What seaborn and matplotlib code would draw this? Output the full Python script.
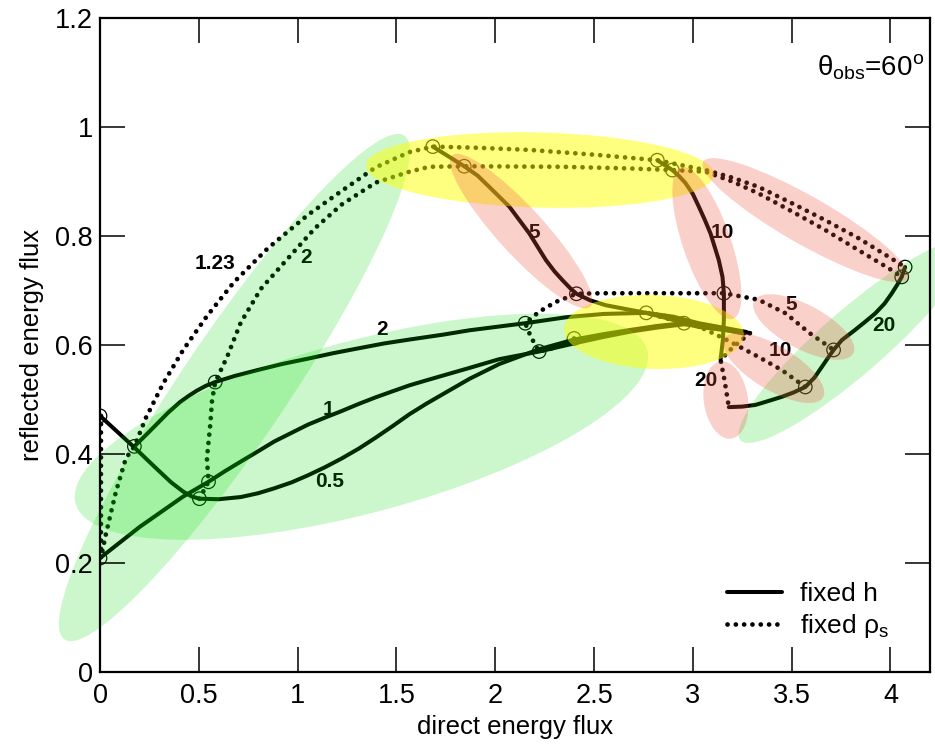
import matplotlib
matplotlib.use("Agg")
import matplotlib.pyplot as plt
import seaborn as sns
from matplotlib.patches import Ellipse
from matplotlib.transforms import Affine2D
from matplotlib.lines import Line2D

# ---------------- curves at fixed h (solid) ----------------
h05_x = [0.0, 0.09, 0.174, 0.240, 0.301, 0.360, 0.421, 0.465, 0.503, 0.60, 0.712, 0.800, 0.882,
         0.970, 1.053, 1.140, 1.224, 1.310, 1.395, 1.480, 1.566, 1.650, 1.736, 1.87, 2.02, 2.22,
         2.399, 2.55, 2.69, 2.82, 2.955, 3.10, 3.25]
h05_y = [0.470, 0.440, 0.412, 0.389, 0.368, 0.348, 0.331, 0.322, 0.318, 0.317, 0.321, 0.328, 0.337,
         0.348, 0.361, 0.376, 0.392, 0.410, 0.430, 0.451, 0.473, 0.492, 0.510, 0.538, 0.565, 0.592,
         0.610, 0.620, 0.628, 0.635, 0.640, 0.634, 0.622]

h1_x = [0.0, 0.20, 0.421, 0.549, 0.630, 0.712, 0.800, 0.882, 0.970, 1.053, 1.140, 1.224, 1.310,
        1.395, 1.480, 1.566, 1.650, 1.736, 1.87, 2.02, 2.222, 2.40, 2.55, 2.69, 2.82, 2.955, 3.10, 3.26]
h1_y = [0.209, 0.266, 0.322, 0.349, 0.368, 0.386, 0.405, 0.423, 0.439, 0.454, 0.467, 0.479, 0.492,
        0.504, 0.515, 0.526, 0.535, 0.544, 0.558, 0.574, 0.588, 0.603, 0.615, 0.625, 0.632, 0.638, 0.632, 0.621]

h2_x = [0.174, 0.230, 0.285, 0.345, 0.404, 0.450, 0.489, 0.535, 0.583, 0.680, 0.797, 0.920, 1.053,
        1.180, 1.309, 1.440, 1.566, 1.736, 1.87, 2.0, 2.152, 2.36, 2.55, 2.764, 2.90, 3.03, 3.27]
h2_y = [0.414, 0.434, 0.454, 0.476, 0.495, 0.507, 0.516, 0.525, 0.532, 0.543, 0.554, 0.565, 0.575,
        0.585, 0.594, 0.603, 0.610, 0.619, 0.627, 0.633, 0.640, 0.651, 0.657, 0.659, 0.652, 0.640, 0.624]

h5_x = [1.684, 1.843, 1.910, 1.970, 2.071, 2.172, 2.256, 2.300, 2.340, 2.380, 2.411, 2.48, 2.559,
        2.660, 2.764, 2.86, 3.03, 3.29]
h5_y = [0.964, 0.928, 0.911, 0.890, 0.854, 0.805, 0.756, 0.735, 0.719, 0.704, 0.694, 0.682, 0.673,
        0.666, 0.659, 0.650, 0.633, 0.622]

h10_x = [2.820, 2.896, 2.930, 2.963, 3.000, 3.030, 3.060, 3.089, 3.131, 3.150, 3.157, 3.157, 3.152, 3.140]
h10_y = [0.939, 0.921, 0.910, 0.897, 0.877, 0.854, 0.830, 0.805, 0.756, 0.725, 0.695, 0.646, 0.609, 0.573]

h20_x = [4.074, 4.057, 4.035, 4.007, 3.970, 3.923, 3.870, 3.822, 3.754, 3.712, 3.685, 3.653, 3.615,
         3.569, 3.510, 3.451, 3.380, 3.316, 3.250, 3.182]
h20_y = [0.743, 0.725, 0.711, 0.695, 0.676, 0.658, 0.642, 0.628, 0.609, 0.591, 0.577, 0.560, 0.540,
         0.523, 0.513, 0.505, 0.497, 0.490, 0.487, 0.486]

# ---------------- curves at fixed rho_s (dotted) ----------------
r123_x = [0.005, 0.005, 0.028, 0.080, 0.131, 0.174, 0.233, 0.319, 0.421, 0.541, 0.677, 0.848, 1.053,
          1.224, 1.395, 1.566, 1.684, 1.900, 2.172, 2.508, 2.820, 3.064, 3.200, 3.333, 3.502, 3.670,
          3.838, 3.990, 4.074]
r123_y = [0.470, 0.209, 0.250, 0.330, 0.392, 0.414, 0.467, 0.529, 0.591, 0.653, 0.715, 0.777, 0.839,
          0.883, 0.926, 0.954, 0.964, 0.962, 0.958, 0.949, 0.939, 0.921, 0.907, 0.890, 0.860, 0.829,
          0.796, 0.762, 0.743]

r2_x = [0.503, 0.549, 0.541, 0.558, 0.567, 0.583, 0.643, 0.712, 0.814, 0.934, 1.087, 1.224, 1.395,
        1.566, 1.667, 1.843, 2.340, 2.677, 2.896, 3.064, 3.200, 3.333, 3.502, 3.670, 3.838, 3.990, 4.057]
r2_y = [0.318, 0.349, 0.392, 0.454, 0.498, 0.532, 0.578, 0.641, 0.703, 0.752, 0.814, 0.858, 0.898,
        0.918, 0.927, 0.928, 0.927, 0.924, 0.921, 0.918, 0.900, 0.878, 0.845, 0.811, 0.774, 0.741, 0.725]

r5_x = [2.399, 2.30, 2.222, 2.18, 2.152, 2.222, 2.306, 2.411, 2.542, 2.845, 3.157, 3.333, 3.47, 3.59, 3.712]
r5_y = [0.612, 0.595, 0.588, 0.615, 0.640, 0.661, 0.679, 0.694, 0.695, 0.695, 0.695, 0.683, 0.658, 0.622, 0.591]

r10_x = [2.955, 2.764, 2.95, 3.157, 3.22, 3.333, 3.45, 3.569]
r10_y = [0.640, 0.659, 0.648, 0.612, 0.600, 0.578, 0.554, 0.523]

r20_x = [3.25, 3.29, 3.20, 3.14, 3.16, 3.182]
r20_y = [0.622, 0.622, 0.595, 0.573, 0.536, 0.486]

# grid nodes marked with open circles
node_x = [0.0, 0.0, 0.174, 1.684, 2.820, 4.074,
          0.503, 0.549, 0.583, 1.843, 2.896, 4.057,
          2.399, 2.222, 2.152, 2.411, 3.157, 3.712,
          2.955, 2.764, 3.569]
node_y = [0.470, 0.209, 0.414, 0.964, 0.939, 0.743,
          0.318, 0.349, 0.532, 0.928, 0.921, 0.725,
          0.612, 0.588, 0.640, 0.694, 0.695, 0.591,
          0.640, 0.659, 0.523]

# curve labels: text, x, y
curve_labels = [("1.23", 0.581, 0.750), ("2", 1.045, 0.760), ("2", 1.429, 0.628),
                ("1", 1.156, 0.482), ("0.5", 1.164, 0.350), ("5", 2.199, 0.806),
                ("10", 3.148, 0.806), ("5", 3.500, 0.675), ("10", 3.444, 0.589),
                ("20", 3.066, 0.534), ("20", 3.965, 0.635)]

xtick_vals = [0, 0.5, 1, 1.5, 2, 2.5, 3, 3.5, 4]
xtick_text = ["0", "0.5", "1", "1.5", "2", "2.5", "3", "3.5", "4"]
ytick_vals = [0, 0.2, 0.4, 0.6, 0.8, 1.0, 1.2]
ytick_text = ["0", "0.2", "0.4", "0.6", "0.8", "1", "1.2"]

# highlight regions: centre x, centre y, width, height (y units, isotropic), angle, colour
GREEN, YELLOW, SALMON = (0.0, 0.86, 0.0), (1.0, 1.0, 0.0), (0.94, 0.33, 0.26)
regions = [
    (0.680, 0.522, 1.115, 0.195, 56.0, GREEN),
    (1.323, 0.450, 1.086, 0.316, 15.0, GREEN),
    (3.813, 0.606, 0.550, 0.117, 41.0, GREEN),
    (2.227, 0.921, 0.639, 0.138, -1.5, YELLOW),
    (2.803, 0.624, 0.330, 0.136, -2.0, YELLOW),
    (2.131, 0.809, 0.376, 0.086, -47.6, SALMON),
    (3.071, 0.787, 0.294, 0.088, -71.0, SALMON),
    (3.571, 0.829, 0.433, 0.088, -29.7, SALMON),
    (3.561, 0.633, 0.206, 0.081, -28.0, SALMON),
    (3.409, 0.558, 0.211, 0.081, -31.0, SALMON),
    (3.167, 0.499, 0.143, 0.081, -82.0, SALMON),
]
region_alpha = {GREEN: 0.2, YELLOW: 0.5, SALMON: 0.27}

sns.set_style("ticks")
plt.rcParams["font.family"] = ["Liberation Sans", "DejaVu Sans"]
plt.rcParams["mathtext.fontset"] = "custom"
plt.rcParams["mathtext.rm"] = "Liberation Sans"
plt.rcParams["mathtext.it"] = "Liberation Sans:italic"
plt.rcParams["mathtext.bf"] = "Liberation Sans:bold"
for key in ["text.color", "axes.labelcolor", "xtick.color", "ytick.color", "axes.edgecolor"]:
    plt.rcParams[key] = "black"

W, H = 935, 745
fig = plt.figure(figsize=(W / 100, H / 100), dpi=100)
ax = fig.add_axes([100 / W, 73 / H, 830 / W, 654 / H])
XMAX, YMAX = 4.2, 1.2
ax.set_xlim(0, XMAX)
ax.set_ylim(0, YMAX)

solid_kw = dict(color="black", linewidth=2.9, solid_capstyle="round", solid_joinstyle="round")
dot_kw = dict(color="black", linewidth=3.4, linestyle=(0, (0.01, 1.75)), dash_capstyle="round")

for xs, ys in [(h05_x, h05_y), (h1_x, h1_y), (h2_x, h2_y), (h5_x, h5_y), (h10_x, h10_y), (h20_x, h20_y)]:
    sns.lineplot(x=xs, y=ys, sort=False, estimator=None, ax=ax, zorder=2, **solid_kw)
for xs, ys in [(r123_x, r123_y), (r2_x, r2_y), (r5_x, r5_y), (r10_x, r10_y), (r20_x, r20_y)]:
    sns.lineplot(x=xs, y=ys, sort=False, estimator=None, ax=ax, zorder=2, **dot_kw)

sns.scatterplot(x=node_x, y=node_y, ax=ax, marker="o", s=95, color="none",
                edgecolor="black", linewidth=0.9, zorder=3)

for txt, tx, ty in curve_labels:
    ax.text(tx, ty, txt, fontsize=15, fontweight="bold", ha="center", va="center", zorder=3)

# ellipses are built in an isotropic frame and stretched back to data units
fig_w, fig_h = fig.get_size_inches()
pos = ax.get_position()
k = (pos.width * fig_w / XMAX) / (pos.height * fig_h / YMAX)
iso = Affine2D().scale(1.0 / k, 1.0) + ax.transData
for cx, cy, w, h, ang, col in regions:
    ax.add_patch(Ellipse((cx * k, cy), w, h, angle=ang, transform=iso, facecolor=col,
                         alpha=region_alpha[col], edgecolor="none", zorder=4, clip_on=False))

ax.text(4.17, 1.094, r"$\mathrm{\theta_{obs}}$=60$^\mathrm{o}$", fontsize=20,
        ha="right", va="baseline", zorder=5)

ax.set_xticks(xtick_vals)
ax.set_xticklabels(xtick_text)
ax.set_yticks(ytick_vals)
ax.set_yticklabels(ytick_text)
ax.tick_params(direction="in", length=18, width=1.1, top=True, right=True, labelsize=19.5,
               color="black", labelcolor="black")
ax.tick_params(axis="x", pad=8)
ax.tick_params(axis="y", pad=5)
for sp in ax.spines.values():
    sp.set_linewidth(1.6)
    sp.set_color("black")
    sp.set_zorder(6)
ax.xaxis.set_zorder(6)
ax.yaxis.set_zorder(6)

ax.set_xlabel("direct energy flux", fontsize=18.5, labelpad=4)
ax.set_ylabel("reflected energy flux", fontsize=18.5, labelpad=8)

handles = [Line2D([], [], **solid_kw), Line2D([], [], **dot_kw)]
ax.legend(handles, ["fixed h", r"fixed $\mathrm{\rho_s}$"], loc="upper left",
          bbox_to_anchor=(0.7554, 0.138), frameon=False, fontsize=19, handlelength=2.1,
          handletextpad=0.65, labelspacing=0.25, borderpad=0, borderaxespad=0)

fig.savefig("out.png", dpi=100)
